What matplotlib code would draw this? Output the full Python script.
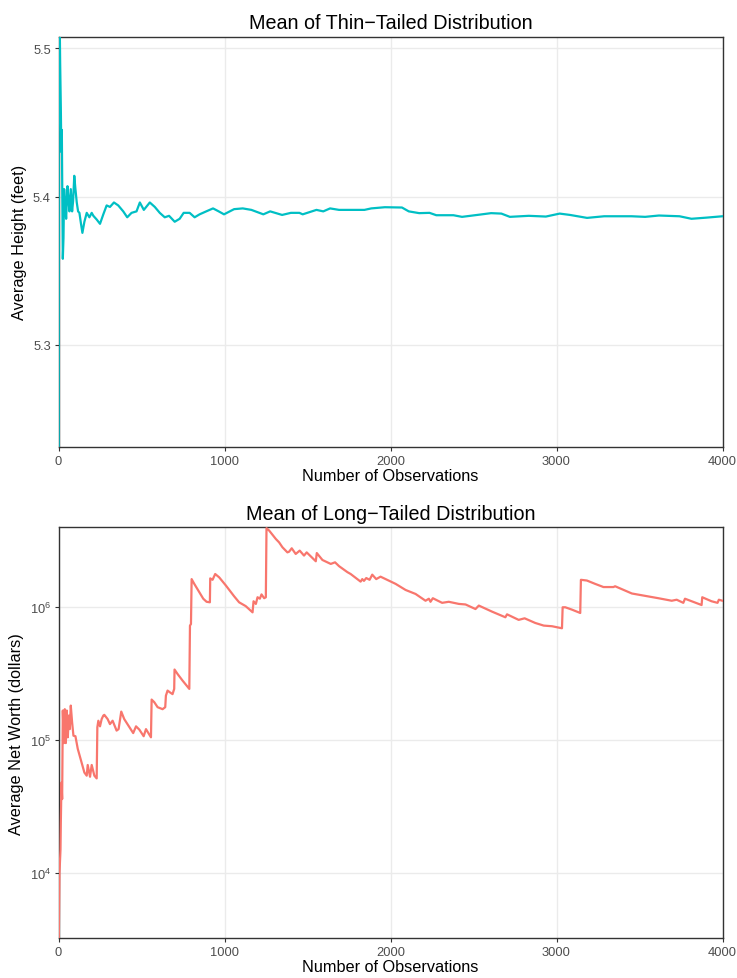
import matplotlib
matplotlib.use('Agg')
import matplotlib.pyplot as plt
from matplotlib.ticker import FixedLocator, FixedFormatter

plt.rcParams['font.family'] = ['Liberation Sans', 'DejaVu Sans']
plt.rcParams['mathtext.fontset'] = 'custom'
plt.rcParams['mathtext.rm'] = 'Liberation Sans'
plt.rcParams['mathtext.default'] = 'regular'

# running mean of the thin-tailed sample (heights, feet)
thin_n = [1, 2, 4, 7, 10, 14, 17, 20, 23, 26, 30, 34, 40, 46, 54, 60, 66, 74, 82, 88,
          95, 102, 110, 118, 126, 135, 144, 156, 170, 186, 200, 210, 230, 250, 270, 290,
          310, 334, 360, 390, 414, 440, 470, 490, 514, 550, 580, 610, 640, 666, 700, 730,
          754, 790, 820, 850, 890, 931, 965, 997, 1058, 1110, 1162, 1234, 1275, 1347,
          1400, 1451, 1471, 1554, 1595, 1636, 1690, 1740, 1843, 1884, 1966, 2069, 2110,
          2173, 2235, 2276, 2379, 2431, 2544, 2606, 2668, 2719, 2833, 2936, 3019, 3081,
          3184, 3287, 3452, 3534, 3617, 3741, 3813, 3906, 4000]
thin_mean = [5.10, 5.62, 5.56, 5.52, 5.49, 5.46, 5.43, 5.445, 5.40, 5.358, 5.372, 5.405,
             5.395, 5.385, 5.407, 5.398, 5.390, 5.405, 5.390, 5.397, 5.414, 5.405, 5.396,
             5.390, 5.389, 5.382, 5.3755, 5.383, 5.389, 5.386, 5.389, 5.387, 5.3845,
             5.3816, 5.388, 5.394, 5.393, 5.396, 5.394, 5.390, 5.386, 5.389, 5.390, 5.396,
             5.391, 5.396, 5.393, 5.389, 5.386, 5.387, 5.383, 5.385, 5.389, 5.389, 5.386,
             5.388, 5.390, 5.392, 5.390, 5.388, 5.3915, 5.392, 5.391, 5.388, 5.390,
             5.3876, 5.389, 5.389, 5.388, 5.391, 5.390, 5.392, 5.391, 5.391, 5.391, 5.392,
             5.3928, 5.3926, 5.390, 5.3888, 5.389, 5.3874, 5.3874, 5.3863, 5.3879, 5.3888,
             5.3885, 5.3863, 5.387, 5.3865, 5.3885, 5.3876, 5.3856, 5.3867, 5.3867,
             5.3863, 5.3872, 5.3867, 5.385, 5.3858, 5.3867]

# running mean of the long-tailed sample (net worth, dollars)
long_n = [1, 2, 6, 12, 14, 18, 22, 26, 32, 38, 44, 50, 56, 62, 68, 74, 82, 90, 102, 116,
          136, 156, 170, 176, 190, 200, 216, 230, 234, 240, 250, 260, 270, 276, 296, 310,
          326, 350, 362, 378, 396, 426, 450, 467, 487, 513, 527, 557, 561, 577, 597, 627,
          643, 647, 657, 671, 687, 697, 699, 717, 747, 788, 792, 798, 802, 818, 848, 872,
          892, 912, 914, 928, 944, 968, 1008, 1058, 1088, 1128, 1169, 1175, 1189, 1199,
          1213, 1223, 1239, 1249, 1253, 1269, 1309, 1329, 1349, 1379, 1389, 1405, 1429,
          1453, 1479, 1495, 1550, 1556, 1590, 1640, 1666, 1690, 1740, 1760, 1820, 1830,
          1840, 1854, 1874, 1890, 1914, 1940, 1971, 2031, 2091, 2151, 2211, 2231, 2241,
          2255, 2311, 2351, 2412, 2452, 2512, 2532, 2612, 2692, 2702, 2772, 2808, 2872,
          2923, 2973, 3033, 3037, 3053, 3093, 3143, 3147, 3183, 3233, 3283, 3343, 3353,
          3454, 3534, 3614, 3694, 3724, 3764, 3774, 3874, 3878, 3934, 3970, 3978, 4000]
long_mean = [2500, 3300, 10000, 15000, 24000, 48000, 36000, 167000, 95000, 171000, 95000,
             167000, 105000, 153000, 121000, 182000, 136000, 108000, 107000, 86000, 70000,
             57000, 54000, 65000, 53000, 65000, 54000, 51500, 125000, 140000, 127000,
             144000, 153000, 155000, 144000, 132000, 140000, 118000, 121000, 164000,
             144000, 126000, 113000, 127000, 120000, 107000, 121000, 105000, 202000,
             193000, 177000, 171000, 177000, 216000, 236000, 229000, 222000, 243000,
             340000, 315000, 281000, 243000, 728000, 748000, 1630000, 1500000, 1300000,
             1160000, 1100000, 1090000, 1650000, 1610000, 1780000, 1680000, 1460000,
             1210000, 1090000, 1020000, 916000, 1110000, 1060000, 1190000, 1160000,
             1250000, 1170000, 1190000, 3940000, 3780000, 3270000, 3080000, 2830000,
             2590000, 2620000, 2780000, 2520000, 2670000, 2450000, 2590000, 2220000,
             2560000, 2270000, 2120000, 2180000, 2040000, 1840000, 1780000, 1560000,
             1630000, 1580000, 1660000, 1610000, 1760000, 1630000, 1700000, 1630000,
             1500000, 1350000, 1260000, 1120000, 1160000, 1100000, 1170000, 1080000,
             1100000, 1060000, 1050000, 970000, 1030000, 927000, 841000, 885000, 804000,
             826000, 762000, 728000, 720000, 695000, 1000000, 1000000, 960000, 906000,
             1610000, 1590000, 1500000, 1420000, 1420000, 1440000, 1270000, 1220000,
             1170000, 1120000, 1140000, 1080000, 1160000, 1040000, 1190000, 1110000,
             1080000, 1140000, 1120000]

x_ticks = [0, 1000, 2000, 3000, 4000]


def style(ax):
    ax.set_facecolor('white')
    ax.grid(True, color='#EBEBEB', linewidth=1.0, zorder=0)
    ax.set_axisbelow(True)
    for s in ax.spines.values():
        s.set_color('#333333')
        s.set_linewidth(1.0)
    ax.tick_params(length=3, width=0.8, color='#333333', labelcolor='#4D4D4D',
                   labelsize=9.3, pad=2.5)
    ax.set_xlim(0, 4000)
    ax.set_xticks(x_ticks)
    ax.set_xlabel('Number of Observations', fontsize=11.7, labelpad=1)


fig = plt.figure(figsize=(7.37, 9.79), dpi=100)

ax1 = fig.add_axes([58.5 / 737, 1 - 448 / 979, 664 / 737, 410.5 / 979])
ax1.plot(thin_n, thin_mean, color='#00BFC4', linewidth=1.6, zorder=3)
style(ax1)
ax1.set_ylim(5.231, 5.508)
ax1.set_yticks([5.3, 5.4, 5.5])
ax1.set_ylabel('Average Height (feet)', fontsize=11.7, labelpad=4)
ax1.set_title('Mean of Thin\u2212Tailed Distribution', fontsize=14.2, pad=6)

ax2 = fig.add_axes([58.5 / 737, 1 - 939 / 979, 664 / 737, 410.7 / 979])
ax2.plot(long_n, long_mean, color='#F8766D', linewidth=1.6, zorder=3)
style(ax2)
ax2.set_yscale('log')
ax2.set_ylim(3240, 4.0e6)
ax2.yaxis.set_major_locator(FixedLocator([1e4, 1e5, 1e6]))
ax2.yaxis.set_major_formatter(FixedFormatter(['$10^{4}$', '$10^{5}$', '$10^{6}$']))
ax2.yaxis.set_minor_locator(FixedLocator([]))
ax2.set_ylabel('Average Net Worth (dollars)', fontsize=11.7, labelpad=4)
ax2.set_title('Mean of Long\u2212Tailed Distribution', fontsize=14.2, pad=6)

fig.savefig('out.png', dpi=100)
